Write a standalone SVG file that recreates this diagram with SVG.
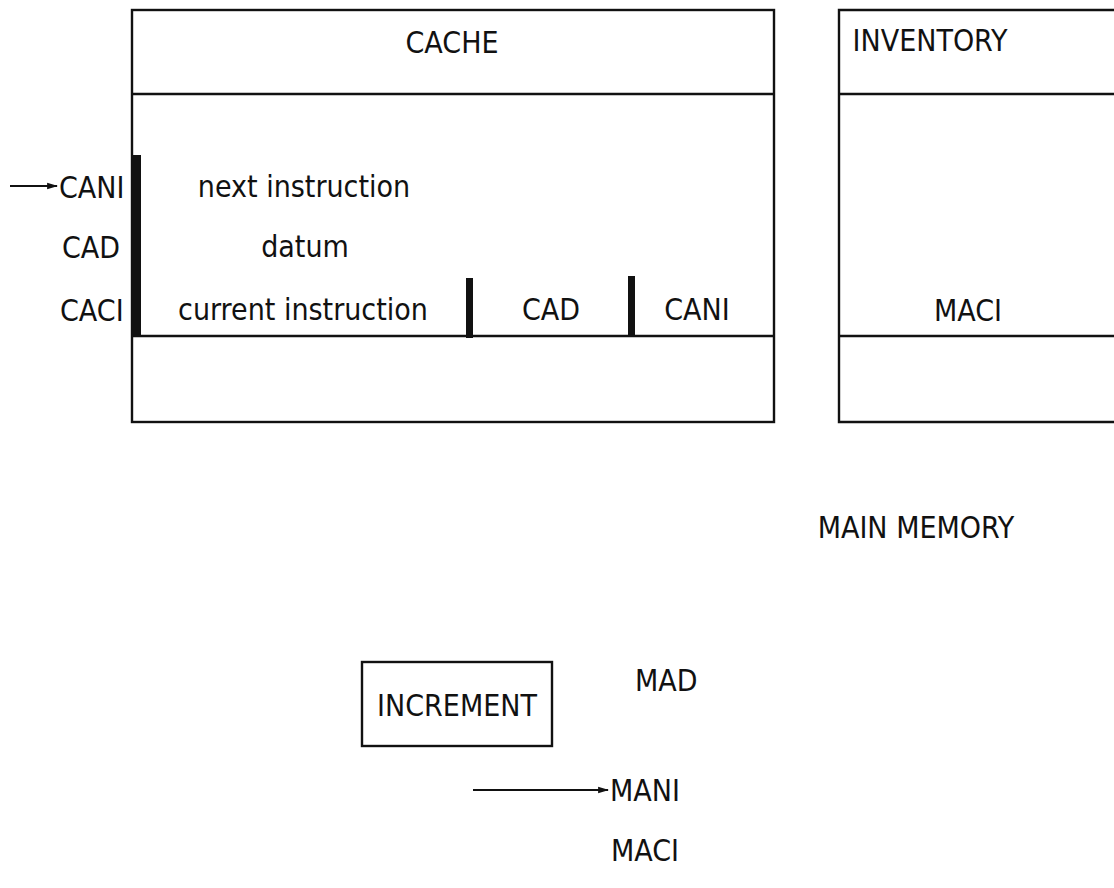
<svg xmlns="http://www.w3.org/2000/svg" width="1114" height="888" viewBox="0 0 1114 888">
  <defs>
    <style>
      .box { fill: none; stroke: #111; stroke-width: 2.4; }
      .rule { stroke: #111; stroke-width: 2.4; }
      .bar { fill: #111; }
      .lbl { font-family: "DejaVu Sans Condensed", "DejaVu Sans", sans-serif; font-size: 30px; fill: #111; }
      .mid { text-anchor: middle; }
      .conn { stroke: #111; stroke-width: 2.2; fill: none; }
    </style>
    <marker id="head" viewBox="0 0 10 10" refX="9" refY="5" markerWidth="5" markerHeight="5" orient="auto">
      <path d="M0,2 L10,5 L0,8 z" fill="#111"/>
    </marker>
  </defs>
  <rect width="1114" height="888" fill="#fff"/>

  <!-- cache block: header, register rows, lower field -->
  <g id="cache">
    <rect class="box" x="132" y="10" width="642" height="412"/>
    <line class="rule" x1="132" y1="94" x2="774" y2="94"/>
    <line class="rule" x1="132" y1="336" x2="774" y2="336"/>
    <rect class="bar" x="133" y="155" width="8" height="182"/>
    <rect class="bar" x="466" y="278" width="7" height="60"/>
    <rect class="bar" x="628" y="276" width="7" height="61"/>
    <text class="lbl mid" x="452" y="53">CACHE</text>
    <text class="lbl mid" x="304" y="197">next instruction</text>
    <text class="lbl mid" x="305" y="257">datum</text>
    <text class="lbl mid" x="303" y="320">current instruction</text>
    <text class="lbl mid" x="551" y="320">CAD</text>
    <text class="lbl mid" x="697" y="320">CANI</text>
  </g>

  <!-- register names beside the cache -->
  <g id="cache-registers">
    <text class="lbl" x="59" y="198">CANI</text>
    <text class="lbl" x="62" y="258">CAD</text>
    <text class="lbl" x="60" y="321">CACI</text>
  </g>

  <!-- inventory block, running off the right edge -->
  <g id="inventory">
    <path class="box" d="M1116,10 H839 V422 H1116"/>
    <line class="rule" x1="839" y1="94" x2="1116" y2="94"/>
    <line class="rule" x1="839" y1="336" x2="1116" y2="336"/>
    <text class="lbl mid" x="930" y="51">INVENTORY</text>
    <text class="lbl mid" x="968" y="321">MACI</text>
  </g>

  <g id="main-memory">
    <text class="lbl mid" x="916" y="538">MAIN MEMORY</text>
  </g>

  <g id="increment">
    <rect class="box" x="362" y="662" width="190" height="84"/>
    <text class="lbl mid" x="457" y="716">INCREMENT</text>
  </g>

  <g id="main-registers">
    <text class="lbl" x="635" y="691">MAD</text>
    <text class="lbl" x="610" y="801">MANI</text>
    <text class="lbl" x="611" y="861">MACI</text>
  </g>

  <g id="connectors">
    <line class="conn" x1="10" y1="186" x2="57" y2="186" marker-end="url(#head)"/>
    <line class="conn" x1="473" y1="790" x2="608" y2="790" marker-end="url(#head)"/>
  </g>
</svg>
